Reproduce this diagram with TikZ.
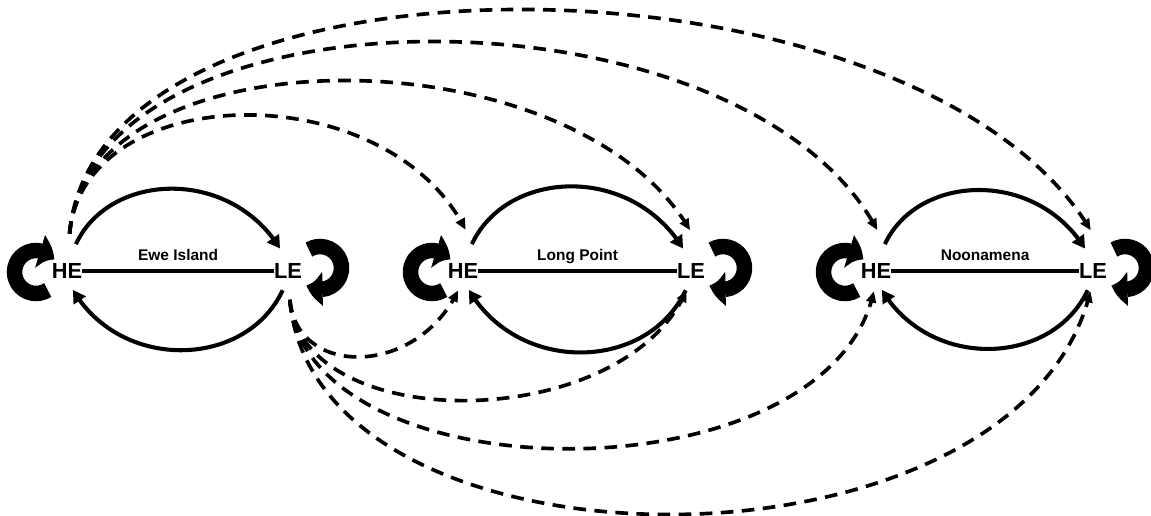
\documentclass[tikz,border=0pt]{standalone}
\usepackage{fontspec}
\setmainfont{Liberation Sans}
\usetikzlibrary{arrows.meta,bending}
\tikzset{
  site/.style={font=\fontsize{15.5}{16}\selectfont\bfseries, inner sep=0pt},
  sitename/.style={font=\fontsize{11}{12}\selectfont\bfseries, inner sep=0pt, anchor=base, yshift=7.8pt},
  link/.style={line width=3.4pt},
  flow/.style={line width=2.9pt, -{Triangle[length=9pt,width=10pt]}},
  jump/.style={line width=2.6pt, dash pattern=on 9pt off 6pt, -{Triangle[length=8pt,width=7pt]}},
  stay/.style={line width=11pt, -{Triangle[length=12pt,width=23pt,bend]}}
}
\begin{document}
\begin{tikzpicture}[x=0.025cm, y=0.025cm, line join=round]
\useasboundingbox (0,0) rectangle (1151,515);
\foreach \i/\xh/\xl/\name in {1/67/288/Ewe Island, 2/463/691/Long Point, 3/876/1093/Noonamena}{
  \node[site] (HE\i) at (\xh,244) {HE};
  \node[site] (LE\i) at (\xl,244) {LE};
  \draw[link] (HE\i) -- (LE\i) node[midway, sitename] {\name};
  \draw[flow, shorten <=15pt, shorten >=12pt] (HE\i.north) to[out=65, in=115, looseness=1.24] (LE\i.north);
  \draw[flow, shorten <=9pt, shorten >=9pt] (LE\i.south) to[out=-115, in=-65, looseness=1.2] (HE\i.south);
  \draw[stay] ([shift={(-31,-1)}]HE\i.center) ++(-57:21.5) arc[start angle=-57, end angle=-326, radius=21.5];
  \draw[stay] ([shift={(32,3)}]LE\i.center) ++(121:21.5) arc[start angle=121, end angle=-128, radius=21.5];
}
% from Ewe Island to the other sites
\foreach \t/\n/\l in {HE2/105/1.23, LE2/109/0.99, HE3/108/0.93, LE3/112/0.855}
  \draw[jump, shorten <=21pt, shorten >=26pt] (HE1.north) to[out=85, in=\n, looseness=\l] (\t.north east);
\foreach \t/\n/\l in {HE2/-110/1.53, LE2/-108/1.04, HE3/-97/0.98, LE3/-100/1.0}
  \draw[jump, shorten <=15pt, shorten >=9pt] (LE1.south) to[out=-85, in=\n, looseness=\l] (\t.south);
\end{tikzpicture}
\end{document}
